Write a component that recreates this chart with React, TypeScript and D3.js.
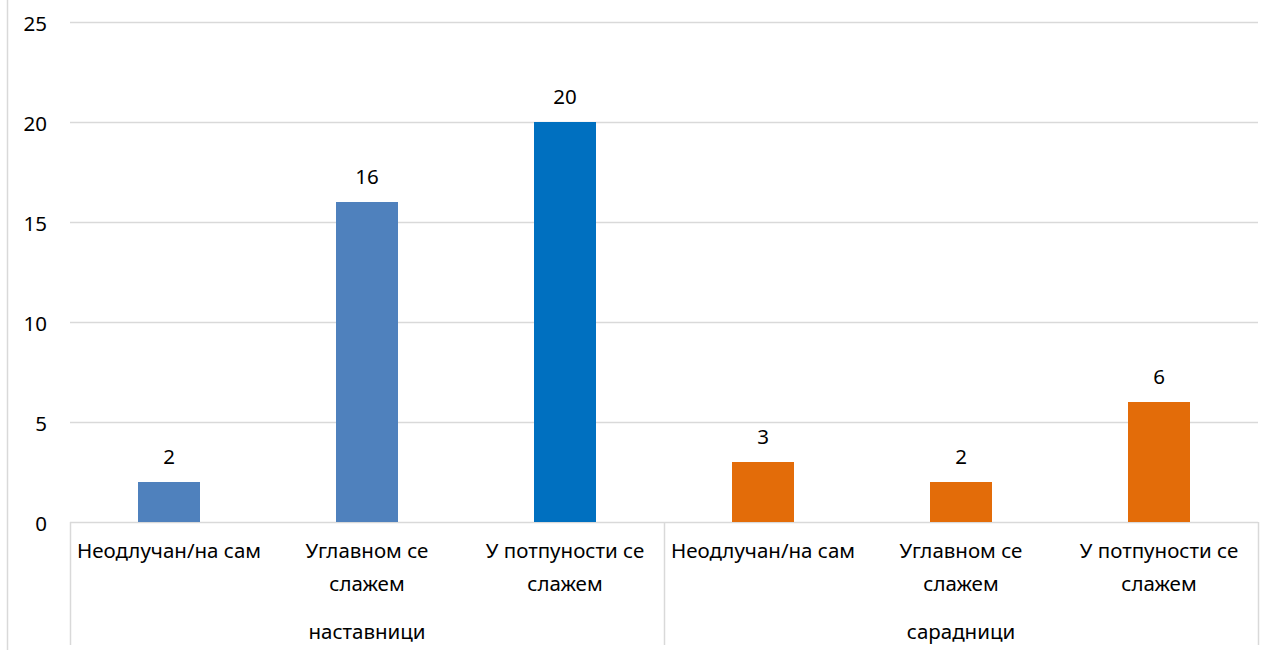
import React from "react";
import * as d3 from "d3";

const groups = ["наставници", "сарадници"];
const categories = [
  ["Неодлучан/на сам"],
  ["Углавном се", "слажем"],
  ["У потпуности се", "слажем"],
  ["Неодлучан/на сам"],
  ["Углавном се", "слажем"],
  ["У потпуности се", "слажем"],
];
const values = [2, 16, 20, 3, 2, 6];
const barColors = ["#4F81BD", "#4F81BD", "#0070C0", "#E36C09", "#E36C09", "#E36C09"];
const yTicks = [0, 5, 10, 15, 20, 25];

const W = 1280;
const H = 650;
const left = 70;
const right = 1258;
const top = 22;
const bottom = 522;
const font = "Noto Sans, Open Sans, sans-serif";
const fs = 20.5;

export default function App() {
  const x = d3.scaleBand<number>().domain(d3.range(values.length)).range([left, right]).paddingInner(0).paddingOuter(0);
  const y = d3.scaleLinear().domain([0, 25]).range([bottom, top]);
  const bw = 62;
  const groupX = d3.scaleBand<number>().domain(d3.range(groups.length)).range([left, right]);
  const sepXs = [left, left + (right - left) / 2, right];
  return (
    <svg width={W} height={H} style={{ position: "absolute", left: 0, top: 0, display: "block" }}>
      <rect x={0} y={0} width={W} height={H} fill="#fff" />
      <line x1={7.5} x2={7.5} y1={0} y2={H} stroke="#d9d9d9" strokeWidth={1.5} />
      {yTicks.map((t) => (
        <g key={t}>
          <line x1={left} x2={right} y1={Math.round(y(t)) + 0.5} y2={Math.round(y(t)) + 0.5} stroke="#d9d9d9" strokeWidth={1.5} />
          <text x={47} y={y(t) + 8.5} textAnchor="end" fontFamily={font} fontSize={fs} fill="#000">
            {t}
          </text>
        </g>
      ))}
      {sepXs.map((sx, i) => (
        <line key={i} x1={sx + 0.5} x2={sx + 0.5} y1={bottom} y2={645} stroke="#d9d9d9" strokeWidth={1.5} />
      ))}
      {values.map((v, i) => {
        const cx = x(i)! + x.bandwidth() / 2;
        return (
          <g key={i}>
            <rect x={cx - bw / 2} y={y(v)} width={bw} height={bottom - y(v)} fill={barColors[i]} />
            <text x={cx} y={y(v) - 18} textAnchor="middle" fontFamily={font} fontSize={fs} fill="#000">
              {v}
            </text>
            {categories[i].map((line, j) => (
              <text key={j} x={cx} y={558 + j * 33} textAnchor="middle" fontFamily={font} fontSize={fs} fill="#000">
                {line}
              </text>
            ))}
          </g>
        );
      })}
      {groups.map((g, i) => (
        <text key={g} x={groupX(i)! + groupX.bandwidth() / 2} y={639} textAnchor="middle" fontFamily={font} fontSize={fs} fill="#000">
          {g}
        </text>
      ))}
    </svg>
  );
}
